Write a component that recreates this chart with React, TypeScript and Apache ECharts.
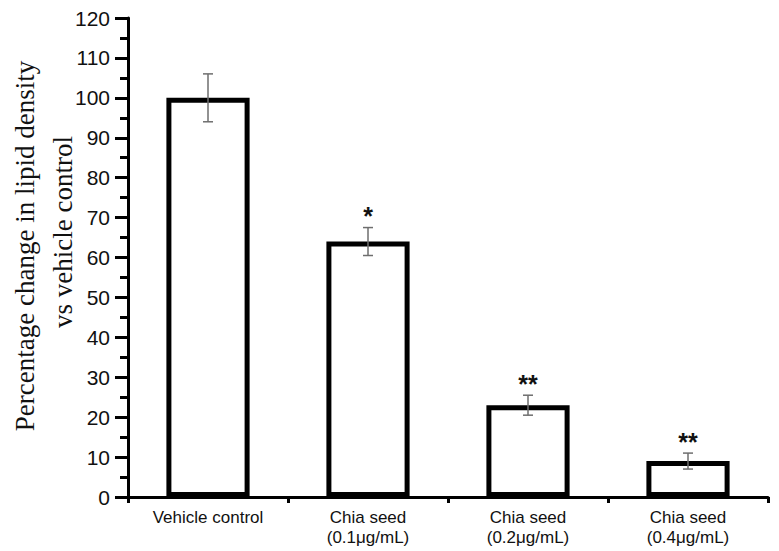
import React, { useEffect, useRef } from "react";
import * as echarts from "echarts";

const categories = ["Vehicle control", "Chia seed\n(0.1μg/mL)", "Chia seed\n(0.2μg/mL)", "Chia seed\n(0.4μg/mL)"];
const means = [100, 64, 23, 9];
const errLow = [94, 60.5, 20.5, 7];
const errHigh = [106, 67.5, 25.5, 11];
const significance = ["", "*", "**", "**"];
const yTitleLines = ["Percentage change in lipid density", "vs vehicle control"];

export default function App() {
  const ref = useRef<HTMLDivElement>(null);
  useEffect(() => {
    if (!ref.current) return;
    const chart = echarts.init(ref.current, null, { renderer: "svg" });
    const errData = categories.map((_, i) => [i, errLow[i], errHigh[i], significance[i]]);
    chart.setOption({
      animation: false,
      backgroundColor: "#ffffff",
      grid: { left: 128, right: 11, top: 18, bottom: 54 },
      xAxis: [
        {
          type: "category",
          data: categories,
          axisLine: { lineStyle: { color: "#000", width: 3 } },
          axisTick: { alignWithLabel: true, length: 10, lineStyle: { color: "#000", width: 3 } },
          axisLabel: {
            color: "#111",
            fontFamily: "Liberation Sans, Arial, sans-serif",
            fontSize: 17,
            lineHeight: 20,
            margin: 10,
            interval: 0,
          },
        },
        {
          type: "value",
          position: "bottom",
          min: 0,
          max: 4,
          interval: 1,
          axisLine: { show: false },
          axisTick: { show: true, length: 6, lineStyle: { color: "#000", width: 3 } },
          axisLabel: { show: false },
          splitLine: { show: false },
        },
      ],
      yAxis: {
        type: "value",
        min: 0,
        max: 120,
        interval: 10,
        axisLine: { show: true, lineStyle: { color: "#000", width: 3 } },
        axisTick: { show: true, length: 13, lineStyle: { color: "#000", width: 3 } },
        minorTick: { show: true, splitNumber: 2, length: 8, lineStyle: { color: "#000", width: 3 } },
        splitLine: { show: false },
        axisLabel: {
          color: "#111",
          fontFamily: "Liberation Sans, Arial, sans-serif",
          fontSize: 21,
          margin: 18,
        },
      },
      graphic: [
        {
          type: "text",
          x: 25,
          y: 246,
          rotation: Math.PI / 2,
          style: {
            text: yTitleLines[0],
            fontFamily: "Liberation Serif, serif",
            fontSize: 27,
            fill: "#111",
            align: "center",
            verticalAlign: "middle",
          },
        },
        {
          type: "text",
          x: 63,
          y: 232,
          rotation: Math.PI / 2,
          style: {
            text: yTitleLines[1],
            fontFamily: "Liberation Serif, serif",
            fontSize: 27,
            fill: "#111",
            align: "center",
            verticalAlign: "middle",
          },
        },
      ],
      series: [
        {
          type: "bar",
          data: means,
          barWidth: "52%",
          itemStyle: { color: "#ffffff", borderColor: "#000", borderWidth: 5 },
          z: 2,
        },
        {
          type: "custom",
          data: errData,
          z: 5,
          renderItem: (params: any, api: any) => {
            const i = api.value(0);
            const lo = api.coord([i, api.value(1)]);
            const hi = api.coord([i, api.value(2)]);
            const sig = significance[params.dataIndex];
            const cap = 5;
            const style = { stroke: "#6e6e6e", lineWidth: 1.5 };
            const children: any[] = [
              { type: "line", shape: { x1: hi[0], y1: hi[1], x2: lo[0], y2: lo[1] }, style },
              { type: "line", shape: { x1: hi[0] - cap, y1: hi[1], x2: hi[0] + cap, y2: hi[1] }, style },
              { type: "line", shape: { x1: lo[0] - cap, y1: lo[1], x2: lo[0] + cap, y2: lo[1] }, style },
            ];
            if (sig) {
              children.push({
                type: "text",
                x: hi[0],
                y: hi[1] + 1,
                style: {
                  text: sig,
                  fontFamily: "Liberation Sans, Arial, sans-serif",
                  fontWeight: "bold",
                  fontSize: 25,
                  fill: "#111",
                  align: "center",
                  verticalAlign: "bottom",
                },
              });
            }
            return { type: "group", children };
          },
        },
      ],
    });
    return () => chart.dispose();
  }, []);
  return <div ref={ref} style={{ position: "fixed", left: 0, top: 0, width: 779, height: 551 }} />;
}
